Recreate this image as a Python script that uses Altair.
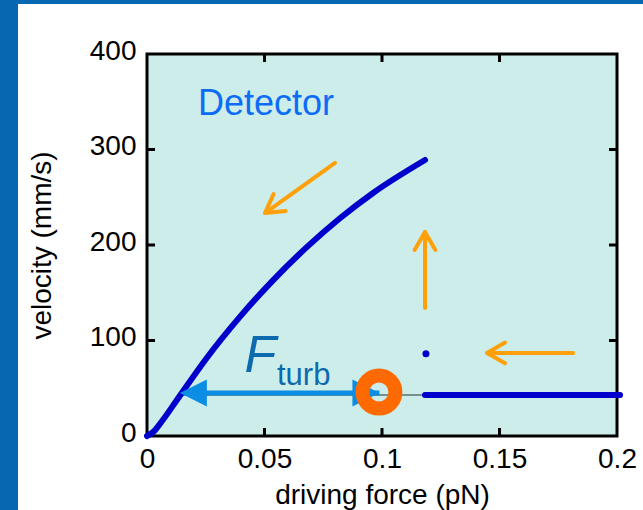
import altair as alt
import pandas as pd

# ---------------- data ----------------
curve_force = [0, 0.003, 0.0068, 0.0128, 0.0255, 0.0396, 0.0536, 0.0681, 0.0821, 0.0962, 0.1183]
curve_velocity = [0, 5, 17, 38, 82, 125, 163, 198, 228, 254.5, 289]
flat_force = [0.1183, 0.2013]
flat_velocity = [43, 43]
dot_force = [0.1187]
dot_velocity = [86]
x_tick_values = [0, 0.05, 0.1, 0.15, 0.2]
y_tick_values = [0, 100, 200, 300, 400]

# ---------------- annotations (data coordinates) ----------------
guide_force = [0.014, 0.1183]
guide_velocity = [43, 43]
fturb_start = [0.014]
fturb_end = [0.0989]
fturb_velocity = [45]
ring_force = [0.0987]
ring_velocity = [46]
arrow_x1 = [0.080, 0.1183, 0.1813]
arrow_y1 = [286, 134, 87]
arrow_x2 = [0.0502, 0.1183, 0.1447]
arrow_y2 = [233.5, 213.6, 87]
arrow_angle = [144.5, 270, 180]
label_text = ["Detector", "F", "turb"]
label_force = [0.0217, 0.0415, 0.0553]
label_velocity = [336, 67, 53.4]

W, H = 470, 382
PAD_L, PAD_T, PAD_R, PAD_B = 147, 54, 26, 74
FONT = "Liberation Sans"
BORDER = "#0767b1"
ORANGE = "#ffa00a"

xs = alt.Scale(domain=[0, 0.2], nice=False)
ys = alt.Scale(domain=[0, 400], nice=False)

curve_df = pd.DataFrame({"f": curve_force, "v": curve_velocity})
flat_df = pd.DataFrame({"f": flat_force, "v": flat_velocity})
dot_df = pd.DataFrame({"f": dot_force, "v": dot_velocity})
guide_df = pd.DataFrame({"f": guide_force, "v": guide_velocity})
fturb_df = pd.DataFrame({"f1": fturb_start, "f2": fturb_end, "v": fturb_velocity})
heads_df = pd.DataFrame({"f": fturb_start + fturb_end, "v": fturb_velocity * 2, "a": [180, 0]})
ring_df = pd.DataFrame({"f": ring_force, "v": ring_velocity})
arrows_df = pd.DataFrame({"x1": arrow_x1, "y1": arrow_y1, "x2": arrow_x2, "y2": arrow_y2, "a": arrow_angle})
one = pd.DataFrame({"k": [0]})

x_axis = alt.Axis(values=x_tick_values, format=".2~f", domain=False, ticks=False, grid=False,
                  labelFont=FONT, labelFontSize=28, labelColor="black", labelPadding=9,
                  labelFlush=False, labelOverlap=False,
                  title="driving force (pN)", titleFont=FONT, titleFontSize=28,
                  titleFontWeight="normal", titleColor="black",
                  titleY=67, titleBaseline="alphabetic")
y_axis = alt.Axis(values=y_tick_values, domain=False, ticks=False, grid=False,
                  labelFont=FONT, labelFontSize=28, labelColor="black", labelPadding=11,
                  labelFlush=False, labelOverlap=False, labelOffset=-3,
                  title="velocity (mm/s)", titleFont=FONT, titleFontSize=28,
                  titleFontWeight="normal", titleColor="black",
                  titleX=-97, titleBaseline="alphabetic")

# blue page border strips
left_strip = alt.Chart(one).mark_rect(color=BORDER).encode(
    x=alt.value(-PAD_L), x2=alt.value(-PAD_L + 18), y=alt.value(-PAD_T), y2=alt.value(H + PAD_B))
top_strip = alt.Chart(one).mark_rect(color=BORDER).encode(
    x=alt.value(-PAD_L), x2=alt.value(W + PAD_R), y=alt.value(-PAD_T), y2=alt.value(-PAD_T + 4))

guide = alt.Chart(guide_df).mark_line(color="#5a7070", strokeWidth=1.5).encode(
    x=alt.X("f:Q", scale=xs, axis=x_axis), y=alt.Y("v:Q", scale=ys, axis=y_axis))

fturb_shaft = alt.Chart(fturb_df).mark_rule(color="#0a8de3", strokeWidth=5).encode(
    x=alt.X("f1:Q", scale=xs), x2="f2:Q", y=alt.Y("v:Q", scale=ys))
fturb_heads = alt.Chart(heads_df).mark_point(
    shape="M 0 0 L -1 -0.5 L -1 0.5 Z", filled=True, color="#0a8de3", size=2916, opacity=1
).encode(x=alt.X("f:Q", scale=xs), y=alt.Y("v:Q", scale=ys), angle=alt.Angle("a:Q", scale=None))

curve = alt.Chart(curve_df).mark_line(color="#0000cc", strokeWidth=6, strokeCap="round",
                                      interpolate="monotone").encode(
    x=alt.X("f:Q", scale=xs), y=alt.Y("v:Q", scale=ys))
flat = alt.Chart(flat_df).mark_line(color="#0000cc", strokeWidth=6, strokeCap="round").encode(
    x=alt.X("f:Q", scale=xs), y=alt.Y("v:Q", scale=ys))
dot = alt.Chart(dot_df).mark_point(shape="circle", filled=True, color="#0000cc", size=49, opacity=1).encode(
    x=alt.X("f:Q", scale=xs), y=alt.Y("v:Q", scale=ys))

ring = alt.Chart(ring_df).mark_point(shape="circle", filled=False, color="#ff6a00",
                                     strokeWidth=14, size=1089, opacity=1).encode(
    x=alt.X("f:Q", scale=xs), y=alt.Y("v:Q", scale=ys))

arrow_shafts = alt.Chart(arrows_df).mark_rule(color=ORANGE, strokeWidth=4, strokeCap="round").encode(
    x=alt.X("x1:Q", scale=xs), y=alt.Y("y1:Q", scale=ys), x2="x2:Q", y2="y2:Q")
arrow_heads = alt.Chart(arrows_df).mark_point(
    shape="M -1 -0.577 L 0 0 L -1 0.577", filled=False, color=ORANGE, strokeWidth=4,
    size=1296, opacity=1, strokeCap="round", strokeJoin="round"
).encode(x=alt.X("x2:Q", scale=xs), y=alt.Y("y2:Q", scale=ys), angle=alt.Angle("a:Q", scale=None))

detector = alt.Chart(pd.DataFrame({"t": [label_text[0]], "f": [label_force[0]], "v": [label_velocity[0]]})
                     ).mark_text(font=FONT, fontSize=36, color="#0d6cf5", align="left",
                                 baseline="alphabetic").encode(
    x=alt.X("f:Q", scale=xs), y=alt.Y("v:Q", scale=ys), text="t:N")
f_label = alt.Chart(pd.DataFrame({"t": [label_text[1]], "f": [label_force[1]], "v": [label_velocity[1]]})
                    ).mark_text(font=FONT, fontSize=52, fontStyle="italic", color="#0e6aae",
                                align="left", baseline="alphabetic").encode(
    x=alt.X("f:Q", scale=xs), y=alt.Y("v:Q", scale=ys), text="t:N")
turb_label = alt.Chart(pd.DataFrame({"t": [label_text[2]], "f": [label_force[2]], "v": [label_velocity[2]]})
                       ).mark_text(font=FONT, fontSize=31, color="#0e6aae", align="left",
                                   baseline="alphabetic").encode(
    x=alt.X("f:Q", scale=xs), y=alt.Y("v:Q", scale=ys), text="t:N")

# inward ticks on all four sides
xt = pd.DataFrame({"f": x_tick_values[1:-1]})
yt = pd.DataFrame({"v": y_tick_values[1:-1]})
tick_bottom = alt.Chart(xt).mark_rule(color="black", strokeWidth=3).encode(
    x=alt.X("f:Q", scale=xs), y=alt.value(H), y2=alt.value(H - 8))
tick_top = alt.Chart(xt).mark_rule(color="black", strokeWidth=3).encode(
    x=alt.X("f:Q", scale=xs), y=alt.value(0), y2=alt.value(8))
tick_left = alt.Chart(yt).mark_rule(color="black", strokeWidth=3).encode(
    y=alt.Y("v:Q", scale=ys), x=alt.value(0), x2=alt.value(8))
tick_right = alt.Chart(yt).mark_rule(color="black", strokeWidth=3).encode(
    y=alt.Y("v:Q", scale=ys), x=alt.value(W), x2=alt.value(W - 8))

chart = alt.layer(
    left_strip, top_strip, guide, fturb_shaft, curve, flat, dot, fturb_heads, ring,
    arrow_shafts, arrow_heads, detector, f_label, turb_label,
    tick_bottom, tick_top, tick_left, tick_right,
).properties(
    width=W, height=H,
    autosize=alt.AutoSizeParams(type="none"),
    padding={"left": PAD_L, "top": PAD_T, "right": PAD_R, "bottom": PAD_B},
    background="white",
).configure_view(
    fill="#ccedea", stroke="black", strokeWidth=3
)

chart.save("out.html", embed_options={"renderer": "svg", "actions": False})
